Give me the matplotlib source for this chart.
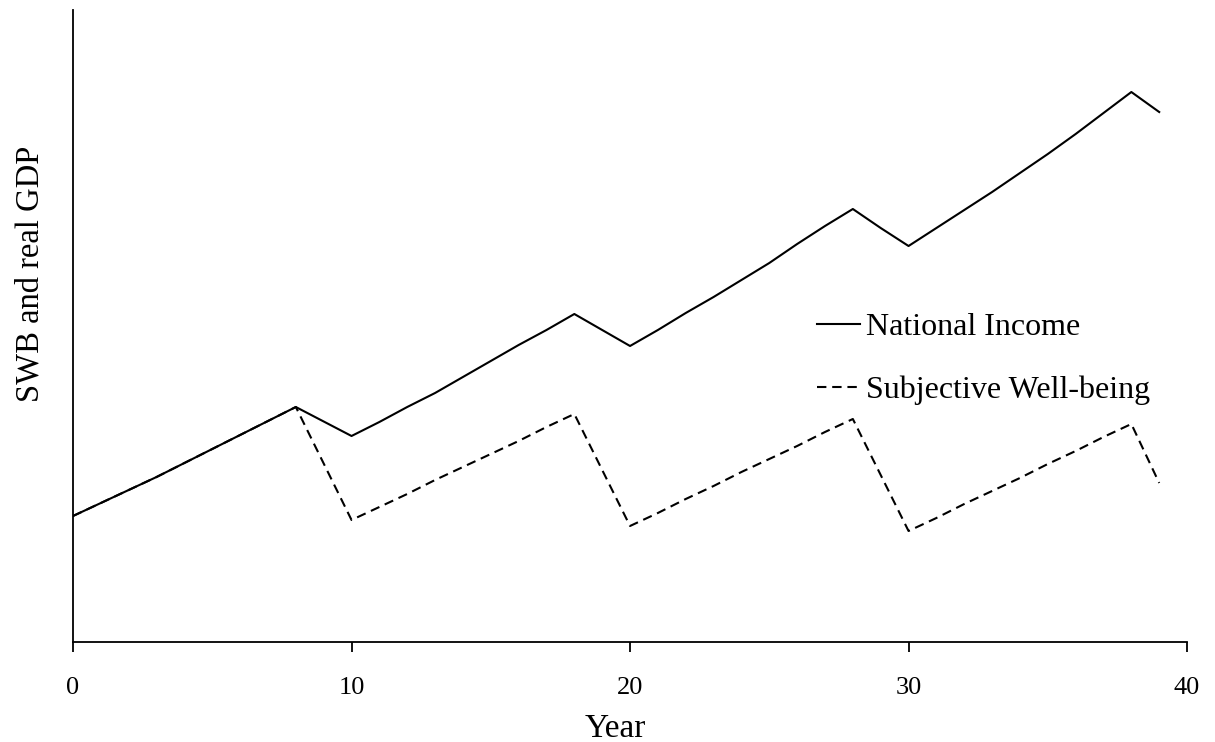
import matplotlib
matplotlib.use("Agg")
import matplotlib.pyplot as plt

# year index and the two series (arbitrary units)
years = list(range(40))
national_income = [126, 139, 152, 165, 179, 193, 207, 221, 235, 220.5,
                   206, 220, 235, 249, 265, 281, 297, 312, 328, 312,
                   296, 312, 329, 345, 362, 379, 398, 416, 433, 414,
                   396, 414, 432, 450, 469, 488, 508, 529, 550, 530]
swb = [126, 139, 152, 165, 179, 193, 207, 221, 235, 178.5,
       122, 135, 148, 162, 175, 188, 201, 215, 228, 172,
       116, 129, 143, 156, 170, 183, 196, 210, 223, 167,
       111, 124, 138, 151, 164, 178, 191, 205, 218, 159]
xticks = [0, 10, 20, 30, 40]

plt.rcParams["font.family"] = ["Liberation Serif", "DejaVu Serif"]

fig = plt.figure(figsize=(12.15, 7.42), dpi=100)
ax = fig.add_axes([0.0601, 0.1348, 0.9169, 0.8517])

ax.plot(years, national_income, color="black", lw=1.5, label="National Income")
ax.plot(years, swb, color="black", lw=1.5, linestyle=(0, (4.5, 2.8)),
        label="Subjective Well-being")

ax.set_xlim(0, 40)
ax.set_ylim(0, 632)
ax.set_xticks(xticks)
ax.set_xticklabels([str(t) for t in xticks], fontsize=19)
ax.set_yticks([])
ax.tick_params(axis="x", length=7, width=1.3, pad=18, colors="black")
for s in ["top", "right"]:
    ax.spines[s].set_visible(False)
for s in ["left", "bottom"]:
    ax.spines[s].set_linewidth(1.3)

ax.set_xlabel("Year", fontsize=24)
ax.xaxis.set_label_coords(0.4865, -0.113)
ax.set_ylabel("SWB and real GDP", fontsize=23.5)
ax.yaxis.set_label_coords(-0.025, 0.582)

ax.legend(loc="upper left", bbox_to_anchor=(0.6724, 0.578),
          bbox_transform=fig.transFigure, frameon=False, fontsize=23,
          handlelength=1.35, handletextpad=0.2, borderpad=0, borderaxespad=0,
          labelspacing=1.03)

fig.savefig("out.png", dpi=100)
